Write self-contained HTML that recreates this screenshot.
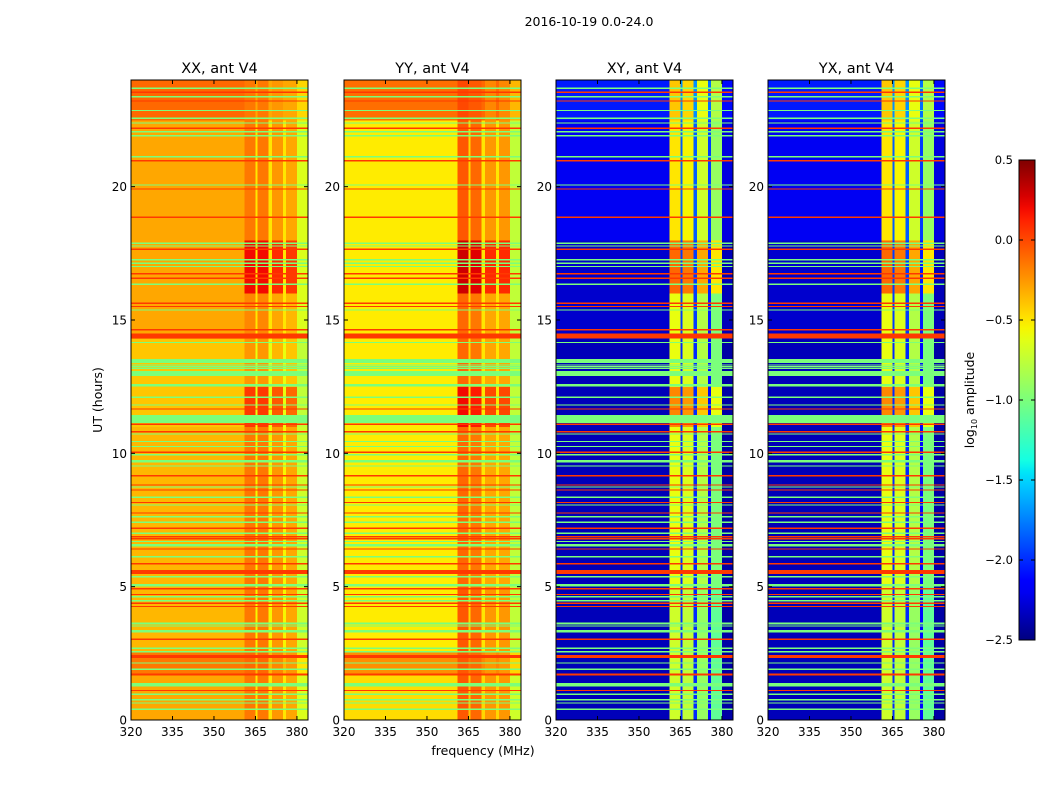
<!DOCTYPE html>
<html><head><meta charset="utf-8">
<style>
html,body{margin:0;padding:0;background:#fff;}
svg{display:block;font-family:"DejaVu Sans","Liberation Sans",sans-serif;}
</style></head>
<body>
<svg id="fig" width="1050" height="800" viewBox="0 0 1050 800" xmlns="http://www.w3.org/2000/svg">
<rect x="0" y="0" width="1050" height="800" fill="#fff"/>
<text x="589" y="26" font-size="12.5" text-anchor="middle">2016-10-19 0.0-24.0</text>
<text transform="translate(102,400) rotate(-90)" font-size="12.5" text-anchor="middle">UT (hours)</text>
<text x="483" y="755" font-size="12.5" text-anchor="middle">frequency (MHz)</text>
<g id="panels"></g>
<g id="cbar"></g>
</svg>
<script>
// ---- data ----
const panelTitles = ["XX, ant V4", "YY, ant V4", "XY, ant V4", "YX, ant V4"];
const xTicks = [320, 335, 350, 365, 380];
const yTicks = [0, 5, 10, 15, 20];
const cbarTicks = [0.5, 0.0, -0.5, -1.0, -1.5, -2.0, -2.5];
const cbarLabels = ["0.5", "0.0", "\u22120.5", "\u22121.0", "\u22121.5", "\u22122.0", "\u22122.5"];
// frequency segments (MHz) and whether they belong to the bright high-frequency block
const freqSegStart = [320, 361, 365, 365.7, 369.7, 371, 375, 376, 380];
const freqSegEnd   = [361, 365, 365.7, 369.7, 371, 375, 376, 380, 384];
const freqSegHigh  = [0, 1, 0, 1, 0, 1, 0, 1, 0];
// log10 amplitude per frequency segment, per panel
const segXX = [-0.3, -0.15, -0.5, -0.15, -0.5, -0.25, -0.5, -0.3, -0.65];
const segYY = [-0.52, -0.1, -0.45, -0.15, -0.5, -0.3, -0.5, -0.3, -0.75];
const segXY = [-2.35, -0.6, -2.0, -0.65, -2.0, -0.8, -2.1, -1.0, -2.4];
const segYX = [-2.35, -0.6, -2.0, -0.65, -2.0, -0.8, -2.1, -1.0, -2.4];
// time bands (hours)
const bandStart = [0, 1.7, 2.6, 5, 11, 12.5, 14.3, 16, 18, 22.5];
const bandEnd   = [1.7, 2.6, 5, 11, 12.5, 14.3, 16, 18, 22.5, 24];
const lowXX  = [0, 0.15, -0.05, -0.05, -0.1, -0.1, 0, 0, 0, 0.2];
const highXX = [0, 0.05, 0, 0, 0.2, -0.1, -0.05, 0.35, 0, 0];
const lowYY  = [0.05, 0.3, 0, 0, 0, 0, 0, 0, 0, 0.4];
const highYY = [0.05, 0.05, 0.05, 0, 0.3, 0, 0, 0.4, 0.05, 0.1];
const lowXY  = [0, 0, 0, 0, 0, 0, 0.05, 0.05, 0.15, 0.3];
const highXY = [-0.1, -0.1, -0.1, 0, 0.4, 0, 0, 0.5, 0.1, 0.2];
const lowYX  = [0, 0, 0, 0, 0, 0, 0.05, 0.05, 0.15, 0.3];
const highYX = [-0.1, -0.1, -0.1, 0, 0.4, 0, 0, 0.5, 0.1, 0.2];
// flagged rows (hours): green = flagged (-1.0), red = RFI (~0.05)
const greenStart = [0.38,0.61,0.73,0.94,1.25,1.88,2.11,2.54,2.67,3.29,3.5,3.59,4.45,4.6,5.0,5.35,6.1,6.5,6.67,6.98,7.39,7.6,8.04,8.33,8.71,9.5,9.65,9.92,10.23,10.42,10.7,11.13,11.79,12.08,12.5,12.9,13.17,13.23,13.29,13.38,14.13,15.35,16.32,16.98,17.1,17.23,17.75,17.85,20.04,21.1,21.88,22.03,22.36,22.54,22.83,23.35,23.67];
const greenEnd   = [0.43,0.66,0.78,0.99,1.38,1.93,2.16,2.59,2.72,3.37,3.55,3.66,4.5,4.65,5.1,5.4,6.15,6.6,6.72,7.03,7.44,7.65,8.09,8.38,8.76,9.55,9.75,9.97,10.28,10.47,10.75,11.43,11.84,12.13,12.6,13.09,13.21,13.27,13.33,13.53,14.18,15.4,16.37,17.03,17.15,17.28,17.8,17.9,20.09,21.15,21.93,22.08,22.41,22.59,22.88,23.4,23.72];
const redStart = [1.08,1.66,2.33,3.0,4.23,4.35,4.68,4.9,5.47,5.83,6.39,6.77,6.85,7.17,7.74,8.13,8.6,8.8,9.14,10.02,10.79,11.07,11.64,14.3,14.6,15.48,15.6,16.54,16.71,17.63,18.83,19.89,20.95,22.17,23.19,23.52];
const redEnd   = [1.13,1.75,2.43,3.05,4.28,4.4,4.73,4.95,5.62,5.88,6.44,6.82,6.9,7.22,7.79,8.17,8.65,8.84,9.19,10.07,10.84,11.12,11.69,14.5,14.67,15.53,15.65,16.59,16.76,17.68,18.88,19.94,21.0,22.22,23.24,23.57];

const segArrs = [segXX, segYY, segXY, segYX];
const lowArrs = [lowXX, lowYY, lowXY, lowYX];
const highArrs = [highXX, highYY, highXY, highYX];
const panelLeft = [131, 344, 556, 768];
const PW = 177, PTOP = 80, PBOT = 720;
const VMIN = -2.5, VMAX = 0.5;
const GREEN_VAL = -1.0, RED_VAL = 0.05;

// ---- helpers ----
function xScale(p, f) { return panelLeft[p] + (f - 320) / 64 * PW; }
function yScale(h) { return PBOT - h / 24 * (PBOT - PTOP); }
function interp(t, pts) {
  for (let i = 1; i < pts.length; i++) {
    if (t <= pts[i][0]) { const a = pts[i-1], b = pts[i]; return a[1] + (b[1]-a[1]) * (t-a[0]) / (b[0]-a[0]); }
  }
  return pts[pts.length-1][1];
}
function jet(v) {
  let t = (v - VMIN) / (VMAX - VMIN); t = Math.max(0, Math.min(1, t));
  const r = interp(t, [[0,0],[0.35,0],[0.66,1],[0.89,1],[1,0.5]]);
  const g = interp(t, [[0,0],[0.125,0],[0.375,1],[0.64,1],[0.91,0],[1,0]]);
  const b = interp(t, [[0,0.5],[0.11,1],[0.34,1],[0.65,0],[1,0]]);
  return `rgb(${Math.round(r*255)},${Math.round(g*255)},${Math.round(b*255)})`;
}
const NS = "http://www.w3.org/2000/svg";
function mk(tag, attrs, parent) {
  const e = document.createElementNS(NS, tag);
  for (const k in attrs) e.setAttribute(k, attrs[k]);
  parent.appendChild(e); return e;
}

const panelsG = document.getElementById("panels");
for (let p = 0; p < 4; p++) {
  const g = mk("g", {}, panelsG);
  
  
  const hm = mk("g", {"shape-rendering": "crispEdges"}, g);
  
  
  for (let b = 0; b < bandStart.length; b++) {
    for (let s = 0; s < freqSegStart.length; s++) {
      const v = segArrs[p][s] + (freqSegHigh[s] ? highArrs[p][b] : lowArrs[p][b]);
      const x0 = xScale(p, freqSegStart[s]), x1 = xScale(p, freqSegEnd[s]);
      const y0 = yScale(bandEnd[b]), y1 = yScale(bandStart[b]);
      const r = mk("rect", {x: x0, y: y0, width: x1 - x0 + 0.3, height: y1 - y0 + 0.3, fill: jet(v)}, hm);
      
      
    }
  }
  for (let i = 0; i < greenStart.length; i++) {
    const y0 = yScale(greenEnd[i]), y1 = yScale(greenStart[i]);
    const r = mk("rect", {x: panelLeft[p], y: y0, width: PW, height: Math.max(1, y1 - y0), fill: jet(GREEN_VAL)}, hm);
    
    
  }
  for (let i = 0; i < redStart.length; i++) {
    const y0 = yScale(redEnd[i]), y1 = yScale(redStart[i]);
    const r = mk("rect", {x: panelLeft[p], y: y0, width: PW, height: Math.max(1, y1 - y0), fill: jet(RED_VAL)}, hm);
    
    
  }
  const fr = mk("rect", {x: panelLeft[p], y: PTOP, width: PW, height: PBOT - PTOP, fill: "none", stroke: "#000", "stroke-width": 1}, g);
  
  
  const t = mk("text", {x: panelLeft[p] + PW/2, y: 73, "font-size": 14.5, "text-anchor": "middle"}, g);
  t.textContent = panelTitles[p];
  
  
  for (const f of xTicks) {
    const x = xScale(p, f);
    mk("line", {x1: x, x2: x, y1: PBOT, y2: PBOT - 4, stroke: "#000"}, g);
    mk("line", {x1: x, x2: x, y1: PTOP, y2: PTOP + 4, stroke: "#000"}, g);
    const l = mk("text", {x: x, y: 736, "font-size": 12, "text-anchor": "middle"}, g);
    l.textContent = f;
    
    
  }
  for (const h of yTicks) {
    const y = yScale(h);
    mk("line", {x1: panelLeft[p], x2: panelLeft[p] + 4, y1: y, y2: y, stroke: "#000"}, g);
    mk("line", {x1: panelLeft[p] + PW, x2: panelLeft[p] + PW - 4, y1: y, y2: y, stroke: "#000"}, g);
    const l = mk("text", {x: panelLeft[p] - 4, y: y + 4.5, "font-size": 12, "text-anchor": "end"}, g);
    l.textContent = h;
    
    
  }
}

// ---- colorbar ----
const cb = document.getElementById("cbar");


const CBX = 1019, CBW = 16, CBT = 160, CBB = 640;
function cbY(v) { return CBB - (v - VMIN) / (VMAX - VMIN) * (CBB - CBT); }
const defs = mk("defs", {}, cb);
const grad = mk("linearGradient", {id: "jetgrad", x1: 0, y1: 1, x2: 0, y2: 0}, defs);
for (let i = 0; i <= 40; i++) {
  mk("stop", {offset: (i/40), "stop-color": jet(VMIN + (VMAX - VMIN) * i / 40)}, grad);
}
const cbr = mk("rect", {x: CBX, y: CBT, width: CBW, height: CBB - CBT, fill: "url(#jetgrad)", stroke: "#000", "stroke-width": 1}, cb);


for (let i = 0; i < cbarTicks.length; i++) {
  const y = cbY(cbarTicks[i]);
  mk("line", {x1: CBX, x2: CBX + 4, y1: y, y2: y, stroke: "#000"}, cb);
  mk("line", {x1: CBX + CBW, x2: CBX + CBW - 4, y1: y, y2: y, stroke: "#000"}, cb);
  const l = mk("text", {x: 1013, y: y + 4, "font-size": 11.5, "text-anchor": "end"}, cb);
  l.textContent = cbarLabels[i];
  
  
}
const cl = mk("text", {transform: "translate(974,400) rotate(-90)", "font-size": 12.5, "text-anchor": "middle"}, cb);
cl.innerHTML = 'log<tspan font-size="8" dy="3">10</tspan><tspan dy="-3"> amplitude</tspan>';


</script>
</body></html>
